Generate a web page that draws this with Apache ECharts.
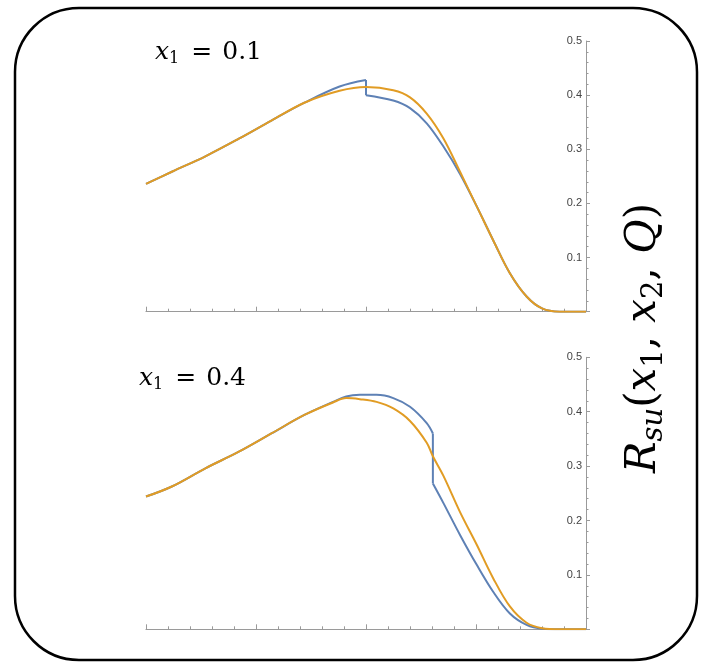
<!DOCTYPE html>
<html>
<head>
<meta charset="utf-8">
<script src="https://cdn.jsdelivr.net/npm/echarts@6/dist/echarts.min.js"></script>
<style>html,body{margin:0;padding:0;background:#fff}#c{width:712px;height:665px}</style>
</head>
<body>
<div id="c"></div>
<script>
// ---- data (x2 on a 0..1 axis, R_su values) ----
// top panel, x1 = 0.1
var xTopBlueA   = [0, 0.06, 0.135, 0.21, 0.285, 0.36, 0.44, 0.5];
var blueTopA    = [0.236, 0.259, 0.287, 0.319, 0.353, 0.386, 0.416, 0.428];
var xTopBlueB   = [0.5, 0.562, 0.6, 0.638, 0.676, 0.714, 0.752, 0.789, 0.827, 0.865, 0.9, 0.94, 1];
var blueTopB    = [0.400, 0.390, 0.376, 0.348, 0.305, 0.254, 0.194, 0.132, 0.071, 0.028, 0.006, 0.0, 0.0];
var xTopO       = [0, 0.06, 0.135, 0.21, 0.285, 0.36, 0.44, 0.5, 0.562, 0.6, 0.638, 0.676, 0.714, 0.752, 0.789, 0.827, 0.865, 0.9, 0.94, 1];
var orangeTop   = [0.236, 0.259, 0.287, 0.319, 0.353, 0.386, 0.408, 0.415, 0.409, 0.396, 0.366, 0.320, 0.258, 0.194, 0.132, 0.071, 0.028, 0.006, 0.0, 0.0];
// bottom panel, x1 = 0.4
var xBotBlueA   = [0, 0.06, 0.135, 0.21, 0.285, 0.36, 0.425, 0.455, 0.486, 0.524, 0.562, 0.6, 0.638, 0.652];
var blueBotA    = [0.244, 0.263, 0.296, 0.326, 0.360, 0.394, 0.418, 0.428, 0.431, 0.431, 0.425, 0.409, 0.379, 0.360];
var xBotBlueB   = [0.652, 0.676, 0.714, 0.752, 0.789, 0.827, 0.865, 0.9, 0.94, 1];
var blueBotB    = [0.268, 0.232, 0.173, 0.118, 0.069, 0.029, 0.008, 0.001, 0.0, 0.0];
var xBotO       = [0, 0.06, 0.135, 0.21, 0.285, 0.36, 0.425, 0.455, 0.486, 0.524, 0.562, 0.6, 0.638, 0.652, 0.676, 0.714, 0.752, 0.789, 0.827, 0.865, 0.9, 0.94, 1];
var orangeBot   = [0.244, 0.263, 0.296, 0.326, 0.360, 0.394, 0.417, 0.425, 0.423, 0.418, 0.406, 0.383, 0.343, 0.318, 0.282, 0.215, 0.155, 0.094, 0.042, 0.012, 0.002, 0.0, 0.0];

var yTicks = [0.1, 0.2, 0.3, 0.4, 0.5];
var panelLabels = ['0.1', '0.4'];

function pairs(xs, ys){ return xs.map(function(x,i){ return [x, ys[i]]; }); }
function jump(xa, ya, xb, yb){ return [[xa[xa.length-1], ya[ya.length-1]], [xb[0], yb[0]]]; }

var BLUE = '#5E81B5', ORANGE = '#E19C24', AX = '#9a9a9a';

function xAx(gi){
  return {
    type:'value', gridIndex:gi, min:0, max:1, interval:0.25,
    axisLine:{show:true, lineStyle:{color:AX, width:1.2}},
    axisTick:{show:true, inside:true, length:5, lineStyle:{color:AX}},
    minorTick:{show:true, splitNumber:5, length:3, lineStyle:{color:AX}},
    axisLabel:{show:false}, splitLine:{show:false}
  };
}
function yAx(gi){
  return {
    type:'value', gridIndex:gi, position:'right', min:0, max:0.5, interval:0.1,
    axisLine:{show:true, onZero:false, lineStyle:{color:AX, width:1}},
    axisTick:{show:true, inside:false, length:4, lineStyle:{color:AX}},
    minorTick:{show:true, splitNumber:5, length:2.5, lineStyle:{color:AX}},
    axisLabel:{show:true, inside:true, margin:4, fontSize:11, color:'#444', fontFamily:'Liberation Sans',
      formatter:function(v){ var s = +v.toFixed(1); return yTicks.indexOf(s) >= 0 ? s.toFixed(1) : ''; }},
    splitLine:{show:false}
  };
}
function line(name, gi, data, color, smooth){
  return {
    name:name, type:'line', xAxisIndex:gi, yAxisIndex:gi, data:data,
    showSymbol:false, smooth:smooth, clip:true,
    lineStyle:{color:color, width:2}, itemStyle:{color:color}, animation:false, z: color===ORANGE?3:2
  };
}
function mathLabel(val){
  return '{i|x}{s|1}{e|=}{n|' + val + '}';
}
var SERIF = 'DejaVu Serif';
var mathRich = {
  i:{fontFamily:SERIF, fontStyle:'italic', fontSize:25, lineHeight:30, verticalAlign:'middle', color:'#111'},
  s:{fontFamily:SERIF, fontSize:16, lineHeight:16, verticalAlign:'bottom', color:'#111'},
  e:{fontFamily:SERIF, fontSize:25, lineHeight:30, verticalAlign:'middle', color:'#111', padding:[0,10,0,12]},
  n:{fontFamily:SERIF, fontSize:25, lineHeight:30, verticalAlign:'middle', color:'#111'}
};
var bigRich = {
  i:{fontFamily:SERIF, fontStyle:'italic', fontSize:42, lineHeight:50, verticalAlign:'middle', color:'#000'},
  s:{fontFamily:SERIF, fontStyle:'italic', fontSize:29, lineHeight:29, verticalAlign:'bottom', color:'#000'},
  d:{fontFamily:SERIF, fontSize:29, lineHeight:29, verticalAlign:'bottom', color:'#000'},
  n:{fontFamily:SERIF, fontSize:42, lineHeight:50, verticalAlign:'middle', color:'#000'}
};

var chart = echarts.init(document.getElementById('c'), null, {renderer:'canvas'});
chart.setOption({
  backgroundColor:'#fff',
  animation:false,
  grid:[
    {left:146, right:126, top:41, height:270.7},
    {left:146, right:126, top:357.3, height:272}
  ],
  xAxis:[xAx(0), xAx(1)],
  yAxis:[yAx(0), yAx(1)],
  series:[
    line('blue1a', 0, pairs(xTopBlueA, blueTopA), BLUE, 0.35),
    line('blue1j', 0, jump(xTopBlueA, blueTopA, xTopBlueB, blueTopB), BLUE, false),
    line('blue1b', 0, pairs(xTopBlueB, blueTopB), BLUE, 0.35),
    line('orange1', 0, pairs(xTopO, orangeTop), ORANGE, 0.35),
    line('blue2a', 1, pairs(xBotBlueA, blueBotA), BLUE, 0.35),
    line('blue2j', 1, jump(xBotBlueA, blueBotA, xBotBlueB, blueBotB), BLUE, false),
    line('blue2b', 1, pairs(xBotBlueB, blueBotB), BLUE, 0.35),
    line('orange2', 1, pairs(xBotO, orangeBot), ORANGE, 0.35)
  ],
  graphic:[
    {type:'rect', shape:{x:15, y:8, width:682, height:652, r:64}, style:{fill:'none', stroke:'#000', lineWidth:2.5}, z:10},
    {type:'text', x:155, y:52, style:{text:mathLabel(panelLabels[0]), rich:mathRich, align:'left', verticalAlign:'middle'}, z:10},
    {type:'text', x:139, y:378, style:{text:mathLabel(panelLabels[1]), rich:mathRich, align:'left', verticalAlign:'middle'}, z:10},
    {type:'text', x:644, y:338, rotation:Math.PI/2,
      style:{text:'{i|R}{s|su}{n|(}{i|x}{d|1}{n|, }{i|x}{d|2}{n|, }{i|Q}{n|)}', rich:bigRich, align:'center', verticalAlign:'middle'}, z:10}
  ]
});
</script>
</body>
</html>
